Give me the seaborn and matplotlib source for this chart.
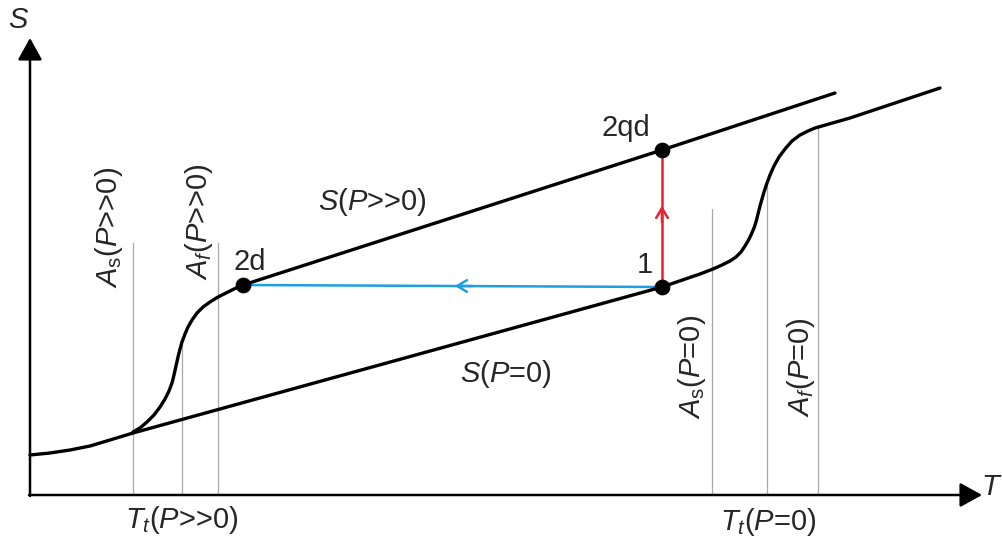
import matplotlib
matplotlib.use('Agg')
import matplotlib.pyplot as plt
import seaborn as sns

# schematic S-T diagram, coordinates (pixels, y down)
lower_T = [30, 50, 70, 90, 110, 133, 662, 700, 713, 722, 730, 736, 741, 745, 748, 751, 754,
           756, 758, 760, 762, 764, 767, 770, 774, 779, 785, 792, 800, 808, 815, 822, 850, 940]
lower_S = [455, 453, 450, 446, 440, 433, 287, 274, 269, 265, 261, 257, 252, 246, 241, 235, 228,
           222, 214, 206, 199, 192, 183, 175, 166, 157, 149, 141, 135, 131, 128, 126, 118, 88]

upper_T = [133, 140, 147, 154, 160, 165, 169, 172, 174, 176, 178, 180, 182, 185, 188, 192,
           197, 203, 210, 218, 226, 234, 243, 662, 835]
upper_S = [432, 428, 422, 415, 407, 399, 391, 383, 375, 366, 357, 349, 342, 334, 327, 320,
           313, 307, 302, 297, 293, 289, 285, 150, 93]

vline_T = [133, 182, 218, 712, 767, 818]
vline_top = [243, 345, 243, 209, 186, 127]

point_T = [243, 662, 662]
point_S = [285, 150, 287]
point_names = ['2d', '2qd', '1']

axis_T0, axis_S0 = 30, 495

sns.set_style('white')
plt.rcParams['font.family'] = ['Liberation Sans', 'DejaVu Sans']
plt.rcParams['mathtext.fontset'] = 'custom'
plt.rcParams['mathtext.rm'] = 'Liberation Sans'
plt.rcParams['mathtext.it'] = 'Liberation Sans:italic'

fig = plt.figure(figsize=(10.03, 5.41), dpi=100)
ax = fig.add_axes([0, 0, 1, 1])
ax.set_xlim(0, 1003)
ax.set_ylim(541, 0)
ax.axis('off')

# thin gray markers for transition temperatures
for t, top in zip(vline_T, vline_top):
    ax.plot([t, t], [top, axis_S0], color='#a8a8a8', lw=0.9, zorder=1)

# entropy curves
sns.lineplot(x=lower_T, y=lower_S, sort=False, color='black', lw=2.4, ax=ax, zorder=3)
sns.lineplot(x=upper_T, y=upper_S, sort=False, color='black', lw=2.4, ax=ax, zorder=3)

# blue isentropic and red isothermal paths
ax.plot([point_T[2], point_T[0]], [point_S[2], point_S[0]], color='#1e9fe4', lw=1.8, zorder=2)
ax.annotate('', xy=(452, 286), xytext=(475, 286),
            arrowprops=dict(arrowstyle='->,head_length=0.5,head_width=0.3', color='#1e9fe4',
                            lw=1.8, mutation_scale=14))
ax.plot([point_T[2], point_T[1]], [point_S[2], point_S[1]], color='#ee2030', lw=1.8, zorder=2)
ax.annotate('', xy=(662, 203), xytext=(662, 225),
            arrowprops=dict(arrowstyle='->,head_length=0.5,head_width=0.3', color='#ee2030',
                            lw=1.8, mutation_scale=14))

sns.scatterplot(x=point_T, y=point_S, color='black', s=110, ax=ax, zorder=5, edgecolor='black')

# axes with arrows
arrow = dict(arrowstyle='-|>,head_length=0.45,head_width=0.25', color='black', lw=1.8,
             mutation_scale=30, shrinkA=0, shrinkB=0)
ax.annotate('', xy=(axis_T0, 38), xytext=(axis_T0, axis_S0 + 1), arrowprops=arrow)
ax.annotate('', xy=(982, axis_S0), xytext=(axis_T0 - 1, axis_S0), arrowprops=arrow)
ax.text(19, 20, '$S$', fontsize=21, ha='center', va='center')
ax.text(992, 487, '$T$', fontsize=21, ha='center', va='center')

fs = 21
ax.text(372, 202, '$S$($P$>>0)', fontsize=fs, ha='center', va='center')
ax.text(506, 374, '$S$($P$=0)', fontsize=fs, ha='center', va='center')
ax.text(182, 520, r'$T_t$($P$>>0)', fontsize=fs, ha='center', va='center')
ax.text(768, 522, r'$T_t$($P$=0)', fontsize=fs, ha='center', va='center')
ax.text(109, 227, r'$A_{\mathrm{s}}$($P$>>0)', fontsize=fs, rotation=90, ha='center', va='center')
ax.text(199, 222, r'$A_f$($P$>>0)', fontsize=fs, rotation=90, ha='center', va='center')
ax.text(692, 367, r'$A_{\mathrm{s}}$($P$=0)', fontsize=fs, rotation=90, ha='center', va='center')
ax.text(801, 367, r'$A_f$($P$=0)', fontsize=fs, rotation=90, ha='center', va='center')

label_pos = [(250, 262), (626, 128), (645, 265)]
for name, (lx, ly) in zip(point_names, label_pos):
    ax.text(lx, ly, name, fontsize=fs, ha='center', va='center')

fig.savefig('out.png', dpi=100)
